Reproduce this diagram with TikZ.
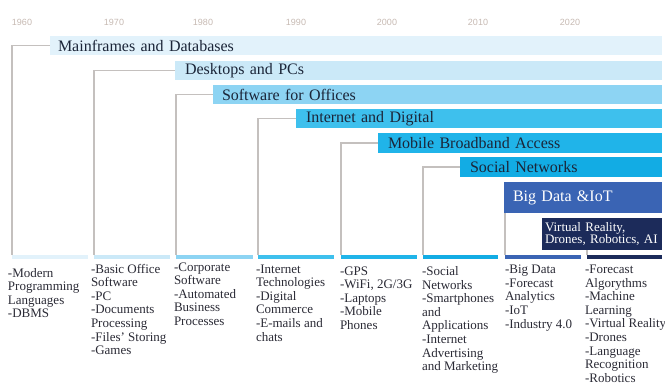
\documentclass[tikz,border=0pt]{standalone}
\usepackage{fontspec}
\setmainfont{Liberation Serif}
\newfontfamily\yearfont{Liberation Sans}
\definecolor{cA}{HTML}{E2F2FB}
\definecolor{cB}{HTML}{CBE9F8}
\definecolor{cC}{HTML}{8DD4F3}
\definecolor{cD}{HTML}{3EC0ED}
\definecolor{cE}{HTML}{20B4E9}
\definecolor{cF}{HTML}{12ACE4}
\definecolor{cG}{HTML}{3A64B4}
\definecolor{cH}{HTML}{1C2B5A}
\definecolor{bartext}{HTML}{1B2538}
\definecolor{coltext}{HTML}{2A2A35}
\definecolor{yeargray}{HTML}{C6B9B2}
\definecolor{conngray}{HTML}{C4C0BE}
\tikzset{
  bar/.style={anchor=north west, inner ysep=0pt, outer sep=0pt, align=left,
    font=\fontsize{16}{16}\selectfont, text=bartext},
  strip/.style={anchor=north west, inner sep=0pt, outer sep=0pt, minimum height=4pt},
  coltxt/.style={anchor=north west, inner sep=0pt, outer sep=0pt, align=left,
    font=\fontsize{13}{13.6}\selectfont, text=coltext},
  year/.style={inner sep=0pt, font=\yearfont\fontsize{9}{9}\selectfont, text=yeargray},
  conn/.style={draw=conngray, line width=1.5pt}
}
\begin{document}
\begin{tikzpicture}[x=1pt,y=-1pt]
\useasboundingbox (0,0) rectangle (665,385);
% years
\node[year] (y1960) at (22,22) {1960};
\node[year] (y1970) at (114,22) {1970};
\node[year] (y1980) at (203,22) {1980};
\node[year] (y1990) at (296,22) {1990};
\node[year] (y2000) at (387,22) {2000};
\node[year] (y2010) at (478,22) {2010};
\node[year] (y2020) at (570,22) {2020};
% bars
\node[bar, fill=cA, minimum height=19pt, inner xsep=8pt, text width=596pt] (b1) at (50,36) {Mainframes and Databases};
\node[bar, fill=cB, minimum height=19pt, inner xsep=10pt, text width=467pt] (b2) at (175,61) {Desktops and PCs};
\node[bar, fill=cC, minimum height=19pt, inner xsep=9pt, text width=431pt] (b3) at (213,85) {Software for Offices};
\node[bar, fill=cD, minimum height=19pt, inner xsep=10pt, text width=346pt] (b4) at (296,109) {Internet and Digital};
\node[bar, fill=cE, minimum height=20pt, inner xsep=10pt, text width=264pt] (b5) at (378,133) {Mobile Broadband Access};
\node[bar, fill=cF, minimum height=20pt, inner xsep=10pt, text width=182pt] (b6) at (460,157) {Social Networks};
\node[bar, fill=cG, minimum height=31pt, inner xsep=9pt, text width=140pt, text=white] (b7) at (504,182) {Big Data \&IoT};
\node[bar, fill=cH, minimum height=32pt, inner xsep=3pt, text width=114pt, text=white,
  font=\fontsize{13}{11.5}\selectfont] (b8) at (542,218) {Virtual Reality,\\Drones, Robotics, AI};
% strips
\node[strip, fill=cA, minimum width=76pt] (s1) at (12,255) {};
\node[strip, fill=cB, minimum width=76pt] (s2) at (94,255) {};
\node[strip, fill=cC, minimum width=77pt] (s3) at (176,255) {};
\node[strip, fill=cD, minimum width=76pt] (s4) at (258,255) {};
\node[strip, fill=cE, minimum width=76pt] (s5) at (341,255) {};
\node[strip, fill=cF, minimum width=75pt] (s6) at (423,255) {};
\node[strip, fill=cG, minimum width=76pt] (s7) at (505,255) {};
\node[strip, fill=cH, minimum width=75pt] (s8) at (587,255) {};
% connectors
\draw[conn] (s1.north west) |- (b1.west);
\draw[conn] (s2.north west) |- (b2.west);
\draw[conn] (s3.north west) |- (b3.west);
\draw[conn] (s4.north west) |- (b4.west);
\draw[conn] (s5.north west) |- (b5.west);
\draw[conn] (s6.north west) |- (b6.west);
\draw[conn] (s7.north west) -- (s7.north west |- b7.south);
\draw[conn] (s8.north west) -- (s8.north west |- b8.south);
% column texts
\node[coltxt] (t1) at (8,268) {-Modern\\Programming\\Languages\\-DBMS};
\node[coltxt] (t2) at (91,264) {-Basic Office\\Software\\-PC\\-Documents\\Processing\\-Files' Storing\\-Games};
\node[coltxt] (t3) at (174,262.5) {-Corporate\\Software\\-Automated\\Business\\Processes};
\node[coltxt] (t4) at (256,264.5) {-Internet\\Technologies\\-Digital\\Commerce\\-E-mails and\\chats};
\node[coltxt] (t5) at (340,266.5) {-GPS\\-WiFi, 2G/3G\\-Laptops\\-Mobile\\Phones};
\node[coltxt] (t6) at (422,266.5) {-Social\\Networks\\-Smartphones\\and\\Applications\\-Internet\\Advertising\\and Marketing};
\node[coltxt] (t7) at (505,265) {-Big Data\\-Forecast\\Analytics\\-IoT\\-Industry 4.0};
\node[coltxt] (t8) at (585,265) {-Forecast\\Algorythms\\-Machine\\Learning\\-Virtual Reality\\-Drones\\-Language\\Recognition\\-Robotics};
\end{tikzpicture}
\end{document}
